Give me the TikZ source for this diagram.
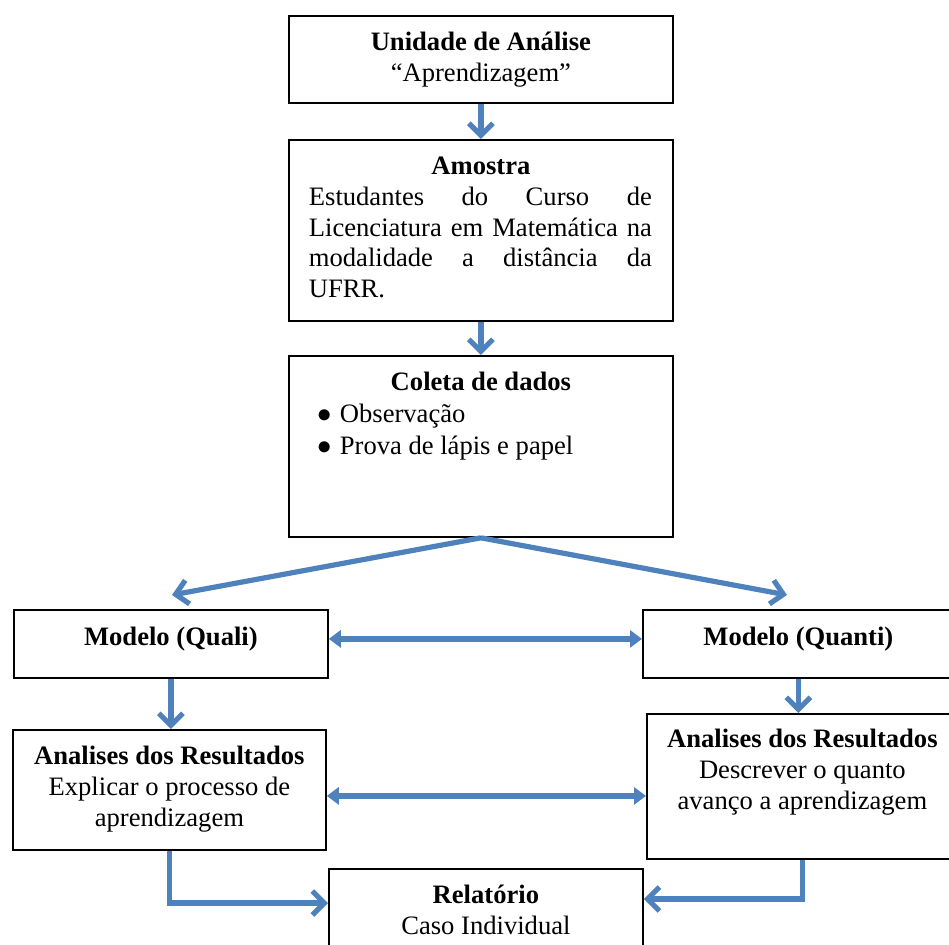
\documentclass[tikz,border=0pt]{standalone}
\usepackage{fontspec}
\setmainfont{Liberation Serif}
\usetikzlibrary{arrows.meta}
\definecolor{azulseta}{HTML}{4F81BD}
\newcommand{\caixatexto}[4]{\parbox[b][#2][t]{#1}{\centering\rule{0pt}{#3}#4\par\vfill}}
\newcommand{\marca}{\makebox[11pt][l]{$\bullet$}}
\hbadness=10000

\begin{document}
\begin{tikzpicture}[x=0.5pt,y=-0.5pt,
  caixa/.style={draw, line width=0.9pt, inner sep=0pt, anchor=north west, font=\fontsize{13.3pt}{15.3pt}\selectfont},
  seta/.style={draw=azulseta, line width=2.6pt, -{Straight Barb[length=6pt,width=12pt]}},
  dupla/.style={draw=azulseta, line width=2.6pt, {Triangle[length=6pt,width=8.5pt]}-{Triangle[length=6pt,width=8.5pt]}}]
  \useasboundingbox (0,0) rectangle (949,944);
  \node[caixa] (unidade) at (288,15) {\caixatexto{192pt}{43.5pt}{17.5pt}{\textbf{Unidade de Análise}\\“Aprendizagem”}};
  \node[caixa] (amostra) at (288,139) {\caixatexto{192pt}{90.5pt}{17.5pt}{\textbf{Amostra}\par
    {\leftskip=10pt\rightskip=10.5pt\parfillskip=0pt plus 1fil Estudantes do Curso de\linebreak Licenciatura em Matemática na\linebreak modalidade a distância da\linebreak UFRR.\par}}};
  \node[caixa] (coleta) at (288,355) {\caixatexto{192pt}{90.5pt}{17.5pt}{\textbf{Coleta de dados}\par\vspace{0.6pt}
    {\raggedright\leftskip=14.5pt \marca Observação\\[0.6pt]\marca Prova de lápis e papel\par}}};
  \node[caixa] (quali) at (13,609) {\caixatexto{157pt}{34pt}{18pt}{\textbf{Modelo (Quali)}}};
  \node[caixa] (quanti) at (642,609) {\caixatexto{155.5pt}{34pt}{18pt}{\textbf{Modelo (Quanti)}}};
  \node[caixa] (anaL) at (12,729) {\caixatexto{156.5pt}{60pt}{17.5pt}{\textbf{Analises dos Resultados}\\Explicar o processo de\\aprendizagem}};
  \node[caixa] (anaR) at (646,713) {\caixatexto{155.5pt}{72.5pt}{17pt}{\textbf{Analises dos Resultados}\\Descrever o quanto\\avanço a aprendizagem}};
  \node[caixa] (relatorio) at (328,868) {\caixatexto{157pt}{50pt}{17.5pt}{\textbf{Relatório}\\Caso Individual}};
  \coordinate (pontaQuali) at (172,595); \coordinate (pontaQuanti) at (787,595);
  \draw[seta] (unidade.south) -- (amostra.north); \draw[seta] (amostra.south) -- (coleta.north);
  \draw[seta] (coleta.south) -- (pontaQuali); \draw[seta] (coleta.south) -- (pontaQuanti);
  \draw[dupla] ([yshift=2.5pt]quali.east) -- ([yshift=2.5pt]quanti.west);
  \draw[seta] (quali.south) -- (quali.south |- anaL.north); \draw[seta] (quanti.south) -- (quanti.south |- anaR.north);
  \draw[dupla] ([yshift=-3pt]anaL.east) -- ([yshift=-3pt]anaL.east -| anaR.west);
  \draw[seta] (anaL.south) |- ([yshift=-17.5pt]relatorio.north west);
  \draw[seta] (anaR.south) |- ([yshift=-15.5pt]relatorio.north east);
\end{tikzpicture}
\end{document}
